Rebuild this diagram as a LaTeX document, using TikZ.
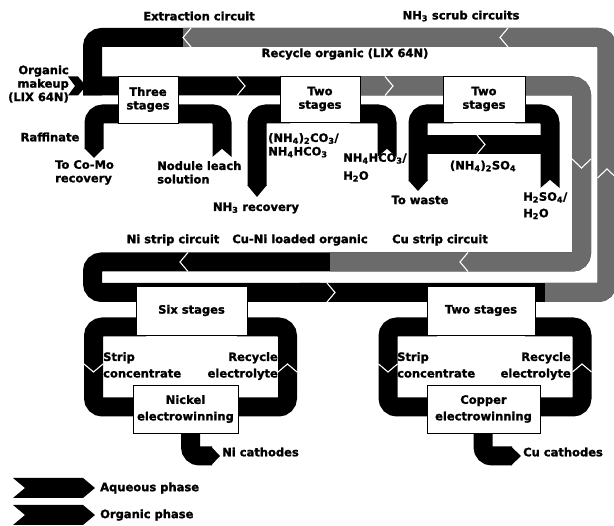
\documentclass[tikz,border=0pt]{standalone}
\usepackage{fontspec}
\setmainfont{DejaVu Sans}[BoldFeatures={FakeBold=1.5}]
\newcommand\lblfont{\bfseries\fontsize{11.5}{13.5}\selectfont}
\newcommand\lowsub[1]{\textsubscript{#1}}
\begin{document}
\begin{tikzpicture}[x=1pt,y=-1pt,
  band/.style={line width=19pt, rounded corners=9pt},
  orgband/.style={band, draw=black!58},
  chev/.style={draw=white, line width=1.1pt},
  box/.style={draw, line width=0.8pt, fill=white, inner sep=0pt, align=center, font=\lblfont},
  lbl/.style={font=\lblfont, inner sep=0pt, align=left}]
\useasboundingbox (0,0) rectangle (614,526);
\clip (0,0) rectangle (614,526);

% ---------- organic loop ----------
\draw[band] (92.5,95.5) -- (92.5,37.5) -- (607,37.5) -- (607,292.5) -- (300,292.5);
\draw[band] (83,86) -- (581.5,86) -- (581.5,262) -- (92.5,262) -- (92.5,292.5) -- (320,292.5);
\draw[orgband] (183,37.5) -- (607,37.5) -- (607,292.5) -- (545,292.5);
\draw[orgband] (360,86) -- (581.5,86) -- (581.5,262) -- (330,262);
% organic makeup
\fill (68,76.5) -- (78,76.5) -- (86,86) -- (78,95.5) -- (68,95.5) -- (75,86) -- cycle;

% ---------- aqueous streams, extraction / scrub ----------
\draw[band] (128,114) -- (94,114) -- (94,149);
\fill (84.5,148.5) -- (103.5,148.5) -- (94,158) -- cycle;
\draw[band] (170,114) -- (222,114) -- (222,157);
\fill[white] (212,157.5) -- (232,157.5) -- (222,149) -- cycle;
\draw[band] (290,114) -- (257,114) -- (257,186);
\fill (247.5,185.5) -- (266.5,185.5) -- (257,197) -- cycle;
\draw[band] (350,114) -- (387,114) -- (387,157);
\fill[white] (377,157.5) -- (397,157.5) -- (387,149) -- cycle;
\draw[band] (453,114) -- (418,114) -- (418,181);
\fill (408.5,180.5) -- (427.5,180.5) -- (418,191) -- cycle;
\draw[band] (515,114) -- (550,114) -- (550,188);
\fill[white] (540,188.5) -- (560,188.5) -- (550,180) -- cycle;
\draw[line width=19pt] (418,144.5) -- (550,144.5);

% ---------- strip loops ----------
\draw[band] (146,327) -- (93.5,327) -- (93.5,407) -- (143,407);
\draw[band] (237,327) -- (287.5,327) -- (287.5,407) -- (228,407);
\draw[band] (437,327) -- (388,327) -- (388,407) -- (437,407);
\draw[band] (525,327) -- (582,327) -- (582,407) -- (530,407);
% cathodes
\draw[band] (190.5,425) -- (190.5,456) -- (212,456);
\fill (211,446.5) -- (220,456) -- (211,465.5) -- cycle;
\draw[band] (483,425) -- (483,456) -- (512,456);
\fill (511,446.5) -- (521,456) -- (511,465.5) -- cycle;

% ---------- chevrons ----------
\draw[chev] (191,28) -- (183,37.5) -- (191,47);
\draw[chev] (508,28) -- (500,37.5) -- (508,47);
\draw[chev] (237,76.5) -- (245,86) -- (237,95.5);
\draw[chev] (385,76.5) -- (393,86) -- (385,95.5);
\draw[chev] (572,159) -- (581.5,168) -- (591,159);
\draw[chev] (597.5,178) -- (607,169) -- (616.5,178);
\draw[chev] (468,252.5) -- (460,262) -- (468,271.5);
\draw[chev] (188,252.5) -- (180,262) -- (188,271.5);
\draw[chev] (327,283) -- (335,292.5) -- (327,302);
\draw[chev] (477,135) -- (485,144.5) -- (477,154);
\draw[chev] (84,364) -- (93.5,372) -- (103,364);
\draw[chev] (278,372) -- (287.5,364) -- (297,372);
\draw[chev] (378.5,364) -- (388,372) -- (397.5,364);
\draw[chev] (572.5,372) -- (582,364) -- (591.5,372);

% ---------- boxes ----------
\node[box, minimum width=60pt, minimum height=47pt] (b1) at (148,99.5) {Three\\stages};
\node[box, minimum width=80pt, minimum height=46pt] (b2) at (320,99) {Two\\stages};
\node[box, minimum width=82pt, minimum height=46pt] (b3) at (484,99) {Two\\stages};
\node[box, minimum width=111pt, minimum height=49pt] (b4) at (191.5,310.5) {Six stages};
\node[box, minimum width=108pt, minimum height=49pt] (b5) at (481,310.5) {Two stages};
\node[box, minimum width=105pt, minimum height=48pt, font=\bfseries\fontsize{11.5}{16.5}\selectfont] (b6) at (185.5,409) {Nickel\\electrowinning};
\node[box, minimum width=113pt, minimum height=48pt, font=\bfseries\fontsize{11.5}{16.5}\selectfont] (b7) at (483.5,409) {Copper\\electrowinning};

% ---------- labels ----------
\node[lbl] (t1) at (199,16) {Extraction circuit};
\node[lbl] (t2) at (461,16) {NH\lowsub{3} scrub circuits};
\node[lbl] (t3) at (345,54) {Recycle organic (LIX 64N)};
\node[lbl, anchor=east, align=right] (t4) at (69,84) {Organic\\makeup\\(LIX 64N)};
\node[lbl] (t5) at (50,137) {Raffinate};
\node[lbl, anchor=north west] (t6) at (55,160) {To Co-Mo\\recovery};
\node[lbl, anchor=north west] (t7) at (157,161) {Nodule leach\\solution};
\node[lbl] (t8) at (256,208) {NH\lowsub{3} recovery};
\node[lbl, anchor=north west] (t9) at (268,133) {(NH\lowsub{4})\lowsub{2}CO\lowsub{3}/\\NH\lowsub{4}HCO\lowsub{3}};
\node[lbl, anchor=north west, font=\bfseries\fontsize{11.5}{18}\selectfont] (t10) at (343,153) {NH\lowsub{4}HCO\lowsub{3}/\\H\lowsub{2}O};
\node[lbl] (t11) at (420,200) {To waste};
\node[lbl] (t12) at (483,166) {(NH\lowsub{4})\lowsub{2}SO\lowsub{4}};
\node[lbl, anchor=north west, font=\bfseries\fontsize{11.5}{16.5}\selectfont] (t13) at (523,192) {H\lowsub{2}SO\lowsub{4}/\\H\lowsub{2}O};
\node[lbl] (t14) at (173,240) {Ni strip circuit};
\node[lbl] (t15) at (300,240) {Cu-Ni loaded organic};
\node[lbl] (t16) at (440,240) {Cu strip circuit};
\node[lbl, anchor=north west, font=\bfseries\fontsize{11.5}{16.5}\selectfont] (t17) at (103,352) {Strip\\concentrate};
\node[lbl, anchor=north east, align=right, font=\bfseries\fontsize{11.5}{16.5}\selectfont] (t18) at (278,352) {Recycle\\electrolyte};
\node[lbl, anchor=north west, font=\bfseries\fontsize{11.5}{16.5}\selectfont] (t19) at (397,352) {Strip\\concentrate};
\node[lbl, anchor=north east, align=right, font=\bfseries\fontsize{11.5}{16.5}\selectfont] (t20) at (571,352) {Recycle\\electrolyte};
\node[lbl, anchor=west] (t21) at (222,452) {Ni cathodes};
\node[lbl, anchor=west] (t22) at (523,452) {Cu cathodes};

% ---------- legend ----------
\fill (13,478) -- (83,478) -- (95,488) -- (83,498) -- (13,498) -- (25,488) -- cycle;
\fill (13,505) -- (83,505) -- (95,515) -- (83,525) -- (13,525) -- (25,515) -- cycle;
\node[lbl, anchor=west] (l1) at (100,488) {Aqueous phase};
\node[lbl, anchor=west] (l2) at (100,515) {Organic phase};
\end{tikzpicture}
\end{document}
